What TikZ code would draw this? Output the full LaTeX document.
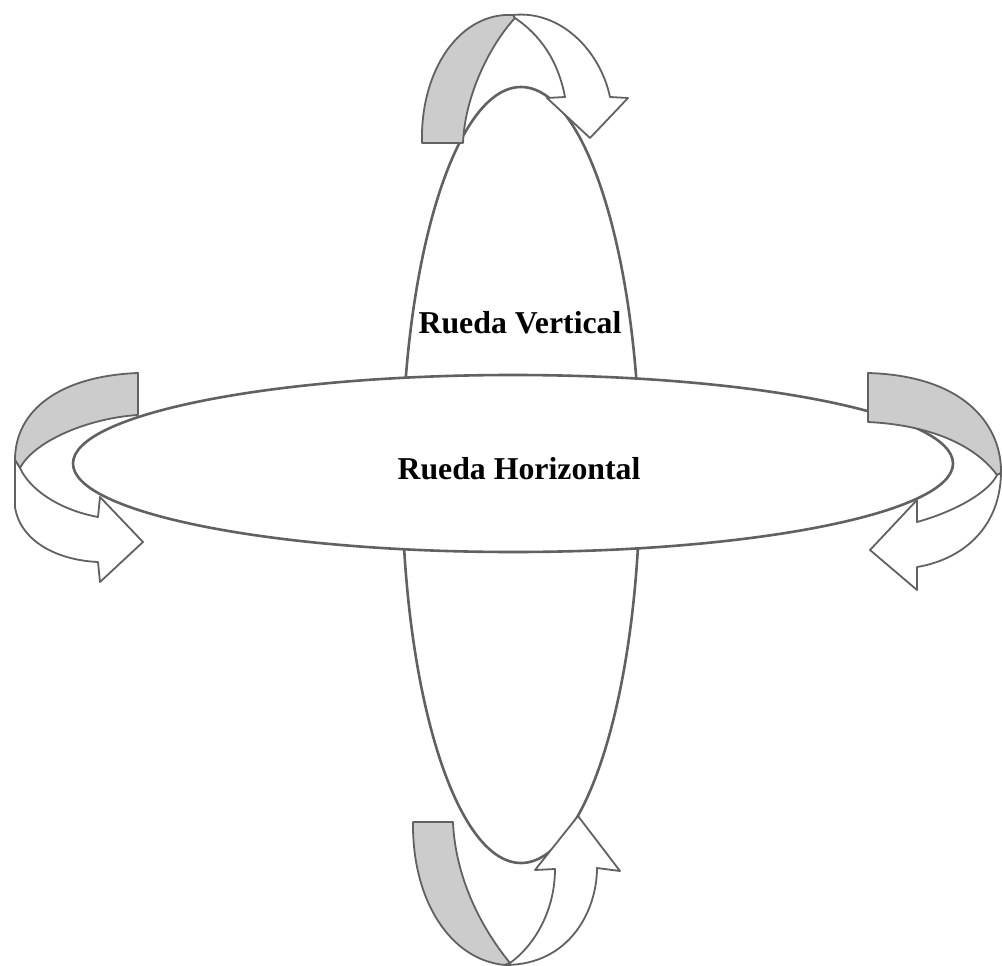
\documentclass[tikz,border=0pt]{standalone}
\usepackage{fontspec}
\setmainfont{Liberation Serif}
\begin{document}
\begin{tikzpicture}[x=1pt,y=-1pt,
  ring/.style={draw=black!62,line width=2.6pt,fill=white},
  backband/.style={draw=black!62,line width=1.8pt,fill=black!20,line join=round},
  frontband/.style={draw=black!62,line width=1.8pt,fill=white,line join=round},
  label/.style={font=\fontsize{31.8}{36}\selectfont\bfseries,text=black,inner sep=0pt,anchor=base}]
\useasboundingbox (0,0) rectangle (1002,966);
% wheels
\draw[ring] (521,475) ellipse [x radius=119, y radius=388];
\draw[ring] (513,463.5) ellipse [x radius=440, y radius=88.5];
\node[label] (rv) at (520,333) {Rueda Vertical};
\node[label] (rh) at (519,479) {Rueda Horizontal};
% top arrow
\draw[backband] (422,143) .. controls (420,70) and (460,12) .. (513,15)
  -- (515,18) .. controls (490,45) and (465,95) .. (463,143) -- cycle;
\draw[frontband] (513,15) .. controls (560,10) and (600,50) .. (610,97)
  -- (628,98) -- (590,138) -- (547,98) -- (565,97)
  .. controls (558,60) and (540,35) .. (515,18) -- cycle;
% left arrow
\draw[backband] (138,373) -- (138,415) .. controls (90,418) and (35,440) .. (20,468)
  -- (15,460) .. controls (15,410) and (60,376) .. (138,373) -- cycle;
\draw[frontband] (15,460) -- (15,507) .. controls (20,540) and (55,560) .. (98,562)
  -- (100,582) -- (143,542) -- (100,497) -- (98,517)
  .. controls (60,510) and (30,490) .. (20,468) -- cycle;
% right arrow
\draw[backband] (868,373) .. controls (970,376) and (1002,430) .. (1001,473)
  -- (997,475) .. controls (975,445) and (930,425) .. (868,422) -- cycle;
\draw[frontband] (1001,473) .. controls (1000,530) and (960,560) .. (917,567)
  -- (917,590) -- (870,550) -- (917,500) -- (917,522)
  .. controls (960,510) and (990,490) .. (997,475) -- cycle;
% bottom arrow
\draw[backband] (413,822) -- (453,822) .. controls (455,870) and (475,920) .. (510,963)
  -- (505,965) .. controls (450,960) and (412,900) .. (413,822) -- cycle;
\draw[frontband] (505,965) .. controls (570,965) and (597,910) .. (597,868)
  -- (620,871) -- (578,816) -- (535,870) -- (555,869)
  .. controls (555,910) and (535,945) .. (510,963) -- cycle;
\end{tikzpicture}
\end{document}
